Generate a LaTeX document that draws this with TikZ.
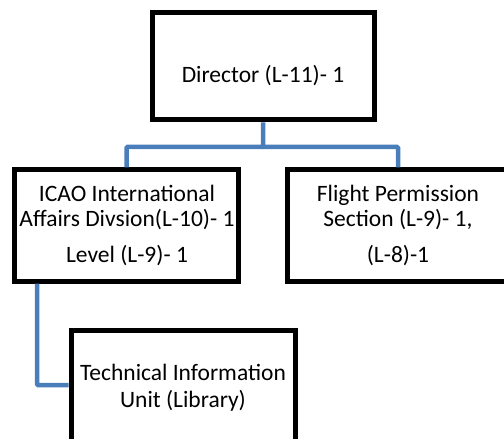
\documentclass[tikz,border=0pt]{standalone}
\usepackage{fontspec}
\setmainfont{Carlito}
\definecolor{linkblue}{HTML}{4A7EBB}

\begin{document}
\begin{tikzpicture}[x=1bp,y=-1bp]

\tikzstyle{unit}=[rectangle,draw,line width=5bp,inner sep=0pt]
\tikzstyle{caption}=[anchor=base,align=center,inner sep=0pt,font=\fontsize{23.5bp}{25bp}\selectfont]
\tikzstyle{link}=[draw=linkblue,line width=4.5bp,rounded corners=1bp]

\useasboundingbox (0,0) rectangle (504,439);
\clip (0,0) rectangle (504,439);

\node[unit,minimum width=222bp,minimum height=107bp] (dir) at (263,66.5) {} ;
\node[unit,minimum width=223bp,minimum height=111bp] (icao) at (126.5,225.5) {} ;
\node[unit,minimum width=222bp,minimum height=111bp] (flight) at (398,225.5) {} ;
\node[unit,minimum width=224bp,minimum height=120bp] (tech) at (183,390) {} ;

\coordinate (split) at (263,147) ;
\coordinate (drop) at (37,385) ;

\draw[link] (dir.south) -- (split) -| (icao.north) ;
\draw[link] (split) -| (flight.north) ;
\draw[link] (icao.south -| drop) -- (drop) -- (tech.west |- drop) ;

\node[caption] (dirtext) at (263,83) {Director (L-11)- 1} ;
\node[caption] (icaotext) at (127,202) {ICAO International} ;
\node[caption] (icaotext2) at (127,227) {Affairs Divsion(L-10)- 1} ;
\node[caption] (icaotext3) at (127,262) {Level (L-9)- 1} ;
\node[caption] (flighttext) at (398,202) {Flight Permission} ;
\node[caption] (flighttext2) at (398,227) {Section (L-9)- 1,} ;
\node[caption] (flighttext3) at (398,262) {(L-8)-1} ;
\node[caption] (techtext) at (183,380) {Technical Information} ;
\node[caption] (techtext2) at (183,407) {Unit (Library)} ;

\end{tikzpicture}
\end{document}
